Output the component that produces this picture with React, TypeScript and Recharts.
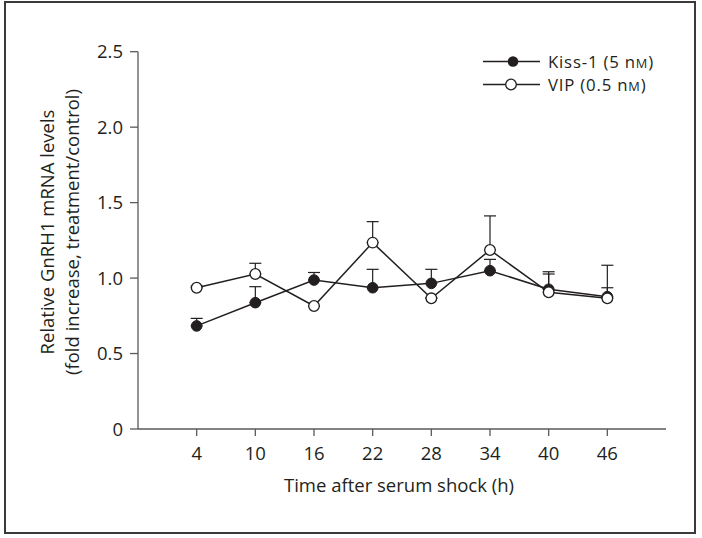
import React from 'react';
import { LineChart, Line, XAxis, YAxis, ErrorBar } from 'recharts';

const hours = [4, 10, 16, 22, 28, 34, 40, 46];
const kissMean = [0.683, 0.837, 0.987, 0.936, 0.965, 1.049, 0.926, 0.877];
const kissSem = [0.05, 0.106, 0.05, 0.122, 0.093, 0.075, 0.116, 0.059];
const vipMean = [0.936, 1.027, 0.815, 1.235, 0.866, 1.186, 0.906, 0.866];
const vipSem = [0.012, 0.071, 0, 0.139, 0, 0.226, 0.121, 0.219];
const yTicks = [0, 0.5, 1.0, 1.5, 2.0, 2.5];
const legendItems = [
  { pre: 'Kiss-1 (5 n', unit: 'M', post: ')', filled: true },
  { pre: 'VIP (0.5 n', unit: 'M', post: ')', filled: false },
];

const data = hours.map((h, i) => ({
  h,
  kiss: kissMean[i],
  kissErr: [0, kissSem[i]],
  vip: vipMean[i],
  vipErr: [0, vipSem[i]],
}));

const FONT = '"Open Sans", sans-serif';
const TEXT = '#231f20';
const AXIS = '#5a5a5a';
const LINE = '#231f20';

const LEG_SIZE = 16.8;
const UNIT_SIZE = 12.8;
const LEG_LS = 0.8;

let ctx: CanvasRenderingContext2D | null = null;
const measure = (s: string, size: number) => {
  if (!ctx) {
    const c = document.createElement('canvas');
    ctx = c.getContext('2d');
  }
  if (!ctx) return s.length * size * 0.55;
  ctx.font = `${size}px "Open Sans"`;
  return ctx.measureText(s).width + s.length * LEG_LS;
};

const FilledDot = (p: any) => {
  const { cx, cy } = p;
  if (cx == null || cy == null) return null;
  return <circle cx={cx} cy={cy} r={5.3} fill={LINE} stroke={LINE} strokeWidth={1} />;
};
const OpenDot = (p: any) => {
  const { cx, cy } = p;
  if (cx == null || cy == null) return null;
  return <circle cx={cx} cy={cy} r={5.3} fill="#fff" stroke={LINE} strokeWidth={1.3} />;
};

const XTitle = (props: any) => {
  const vb = props.viewBox || {};
  const cx = vb.x + vb.width / 2;
  return (
    <text x={cx - 3} y={491.5} textAnchor="middle" fontFamily={FONT} fontSize={18.5} fill={TEXT}>
      Time after serum shock (h)
    </text>
  );
};

const YTitle = () => {
  return (
    <g transform="translate(0,232) rotate(-90)">
      <text x={0} y={53.5} textAnchor="middle" fontFamily={FONT} fontSize={18.5} fill={TEXT}>
        Relative GnRH1 mRNA levels
      </text>
      <text x={0} y={78.5} textAnchor="middle" fontFamily={FONT} fontSize={18.5} fill={TEXT}>
        (fold increase, treatment/control)
      </text>
    </g>
  );
};

const LegendBox = () => {
  const rows = [61.5, 84.5];
  const markerX = [513, 511];
  return (
    <g fontFamily={FONT} fill={TEXT}>
      {legendItems.map((it, i) => {
        const y = rows[i];
        const tx = 548;
        const w1 = measure(it.pre, LEG_SIZE);
        const w2 = measure(it.unit, UNIT_SIZE);
        return (
          <g key={i}>
            <line x1={483} y1={y} x2={540} y2={y} stroke={LINE} strokeWidth={1.4} />
            {it.filled ? (
              <circle cx={markerX[i]} cy={y} r={5.3} fill={LINE} />
            ) : (
              <circle cx={markerX[i]} cy={y} r={5.3} fill="#fff" stroke={LINE} strokeWidth={1.3} />
            )}
            <text x={tx} y={y + 6} fontSize={LEG_SIZE} letterSpacing={LEG_LS}>
              {it.pre}
            </text>
            <text x={tx + w1} y={y + 6} fontSize={UNIT_SIZE} letterSpacing={LEG_LS}>
              {it.unit}
            </text>
            <text x={tx + w1 + w2} y={y + 6} fontSize={LEG_SIZE} letterSpacing={LEG_LS}>
              {it.post}
            </text>
          </g>
        );
      })}
    </g>
  );
};

export default function App() {
  return (
    <div style={{ position: 'absolute', left: 0, top: 0, width: 702, height: 538, background: '#fff' }}>
      <div
        style={{
          position: 'absolute',
          left: 4,
          top: 1,
          width: 692,
          height: 533,
          boxSizing: 'border-box',
          border: '2px solid #3a3a3a',
        }}
      />
      <div style={{ position: 'absolute', left: 0, top: 0 }}>
        <LineChart width={702} height={538} data={data} margin={{ top: 51.7, right: 36, left: 0, bottom: 0 }}>
          <XAxis
            dataKey="h"
            type="number"
            domain={[-2, 52]}
            ticks={hours}
            interval={0}
            height={109}
            tickSize={7}
            tickMargin={11}
            axisLine={{ stroke: AXIS, strokeWidth: 1.3 }}
            tickLine={{ stroke: AXIS, strokeWidth: 1.3 }}
            tick={{ fill: TEXT, fontFamily: FONT, fontSize: 18.5 }}
            label={<XTitle />}
          />
          <YAxis
            type="number"
            domain={[0, 2.5]}
            ticks={yTicks}
            interval={0}
            width={138}
            tickSize={8}
            tickMargin={7}
            axisLine={{ stroke: AXIS, strokeWidth: 1.3 }}
            tickLine={{ stroke: AXIS, strokeWidth: 1.3 }}
            tick={{ fill: TEXT, fontFamily: FONT, fontSize: 18.5 }}
            tickFormatter={(v: number) => (v === 0 ? '0' : v.toFixed(1))}
          />
          <Line dataKey="kiss" stroke="none" dot={false} activeDot={false} legendType="none" isAnimationActive={false}>
            <ErrorBar dataKey="kissErr" width={6} stroke={LINE} strokeWidth={1.2} direction="y" />
          </Line>
          <Line dataKey="vip" stroke="none" dot={false} activeDot={false} legendType="none" isAnimationActive={false}>
            <ErrorBar dataKey="vipErr" width={6} stroke={LINE} strokeWidth={1.2} direction="y" />
          </Line>
          <Line
            dataKey="kiss"
            stroke={LINE}
            strokeWidth={1.5}
            dot={<FilledDot />}
            activeDot={false}
            isAnimationActive={false}
          />
          <Line
            dataKey="vip"
            stroke={LINE}
            strokeWidth={1.5}
            dot={<OpenDot />}
            activeDot={false}
            isAnimationActive={false}
          />
          <YTitle />
          <LegendBox />
        </LineChart>
      </div>
    </div>
  );
}
